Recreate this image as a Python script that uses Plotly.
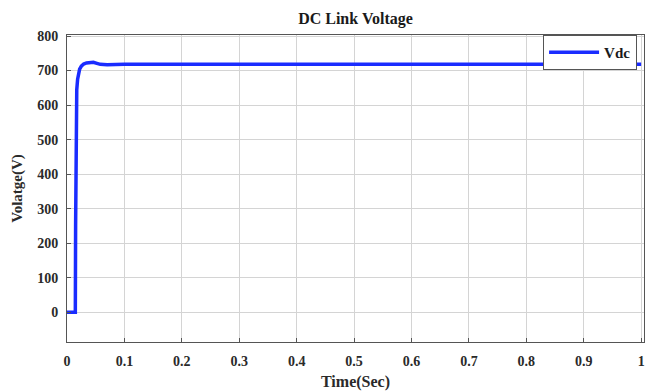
import plotly.graph_objects as go

# Data
time_s = [0.0, 0.0145, 0.0150, 0.0155, 0.0160, 0.0170, 0.0185, 0.0200, 0.0220, 0.0250,
          0.0290, 0.0340, 0.0400, 0.0460, 0.0520, 0.0580, 0.0700, 0.1000, 0.3000, 0.5000,
          0.7000, 0.9000, 1.0]
vdc = [0, 0, 250, 480, 590, 645, 675, 692, 704, 713,
       719, 722, 724, 724, 721, 718, 717, 718, 718, 718,
       718, 718, 718]

x_ticks = [0, 0.1, 0.2, 0.3, 0.4, 0.5, 0.6, 0.7, 0.8, 0.9, 1]
x_tick_text = ["0", "0.1", "0.2", "0.3", "0.4", "0.5", "0.6", "0.7", "0.8", "0.9", "1"]
y_ticks = [0, 100, 200, 300, 400, 500, 600, 700, 800]

FONT = "Liberation Serif"
TXT = "#2a2a2a"

fig = go.Figure()
fig.add_trace(go.Scatter(
    x=time_s, y=vdc, mode="lines", name="<b>Vdc</b>",
    line=dict(color="#1a2cff", width=3.5),
))

fig.update_layout(
    width=648, height=392,
    margin=dict(l=67, r=4, t=35, b=50),
    paper_bgcolor="white", plot_bgcolor="white",
    font=dict(family=FONT, size=14, color=TXT),
    title=dict(text="<b>DC Link Voltage</b>", x=0.5, xanchor="center", xref="paper",
               y=1 - 18 / 392, yref="container", yanchor="middle",
               font=dict(family=FONT, size=16, color="#1a1a1a")),
    showlegend=True,
    legend=dict(x=0.988, y=1.0, xanchor="right", yanchor="top",
                bgcolor="white", bordercolor="#555555", borderwidth=1,
                font=dict(family=FONT, size=15, color="#1a1a1a"),
                itemwidth=50, tracegroupgap=0),
)

fig.update_xaxes(
    range=[0, 1.005], tickvals=x_ticks, ticktext=[f"<b>{t}</b>" for t in x_tick_text],
    showgrid=True, gridcolor="#d4d4d4", gridwidth=1,
    showline=True, linecolor="#555555", linewidth=1, mirror=True,
    ticks="inside", ticklen=4, tickcolor="#555555",
    zeroline=False, automargin=False, ticklabelstandoff=6,
    title=dict(text="<b>Time(Sec)</b>", font=dict(family=FONT, size=16, color=TXT), standoff=8),
    tickfont=dict(family=FONT, size=14, color=TXT),
)
fig.update_yaxes(
    range=[-86, 803], tickvals=y_ticks, ticktext=[f"<b>{t}</b>" for t in y_ticks],
    showgrid=True, gridcolor="#d4d4d4", gridwidth=1,
    showline=True, linecolor="#555555", linewidth=1, mirror=True,
    ticks="inside", ticklen=4, tickcolor="#555555",
    zeroline=False, automargin=False, ticklabelstandoff=5,
    title=dict(text="<b>Volatge(V)</b>", font=dict(family=FONT, size=15, color=TXT), standoff=10),
    tickfont=dict(family=FONT, size=14, color=TXT),
)

fig.write_html("out.html", post_script="document.body.style.margin='0';",
               config={"displayModeBar": False})
